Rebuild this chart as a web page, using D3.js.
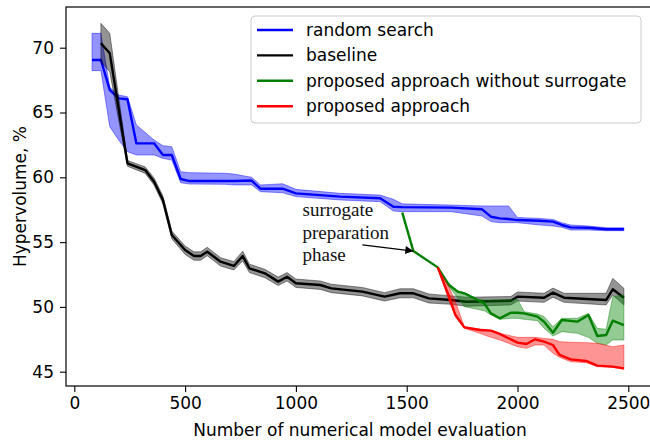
<!DOCTYPE html>
<html>
<head>
<meta charset="utf-8">
<script src="https://cdn.jsdelivr.net/npm/d3@7"></script>
<style>
  body { margin: 0; background: #fff; }
  svg text { font-family: "DejaVu Sans", sans-serif; fill: #000; }
</style>
</head>
<body>
<div id="chart"></div>
<script>
// random search: evaluations, mean, lower and upper band
const randomX    = [80, 120, 160, 200, 240, 280, 360, 400, 440, 480, 520, 680, 720, 800, 840, 940, 1000, 1200, 1380, 1440, 1480, 1700, 1840, 1880, 1920, 1960, 2000, 2100, 2160, 2200, 2240, 2320, 2400, 2480];
const randomMean = [69.05, 69.05, 66.74, 66.09, 66.02, 62.62, 62.62, 61.72, 61.72, 59.87, 59.71, 59.71, 59.71, 59.75, 59.12, 59.12, 58.76, 58.51, 58.38, 57.73, 57.70, 57.66, 57.53, 56.96, 56.83, 56.78, 56.70, 56.65, 56.58, 56.32, 56.14, 56.11, 55.99, 55.99];
const randomLo   = [68.23, 68.23, 63.91, 62.88, 61.98, 61.72, 61.72, 61.46, 61.33, 59.58, 59.48, 59.46, 59.41, 59.41, 58.89, 58.81, 58.51, 58.25, 58.12, 57.40, 57.35, 57.35, 57.01, 56.58, 56.50, 56.50, 56.50, 56.32, 56.24, 56.14, 55.93, 55.93, 55.88, 55.88];
const randomHi   = [71.11, 71.11, 66.94, 66.35, 66.22, 64.04, 62.88, 62.44, 62.36, 60.43, 60.36, 60.31, 60.25, 60.00, 59.41, 59.50, 59.07, 58.76, 58.63, 58.30, 57.95, 57.86, 57.79, 57.79, 57.79, 57.79, 56.90, 56.83, 56.75, 56.50, 56.32, 56.24, 56.11, 56.11];

// baseline
const baseX    = [120, 160, 200, 240, 320, 360, 400, 440, 500, 540, 570, 600, 660, 720, 760, 790, 860, 920, 960, 1000, 1110, 1160, 1300, 1400, 1470, 1530, 1600, 1700, 1770, 1970, 2000, 2120, 2160, 2210, 2400, 2430, 2480];
const baseMean = [70.34, 69.57, 65.32, 61.08, 60.56, 59.66, 58.25, 55.55, 54.39, 53.93, 53.93, 54.26, 53.49, 53.16, 53.93, 52.98, 52.59, 51.95, 52.33, 51.82, 51.69, 51.43, 51.18, 50.79, 51.05, 51.05, 50.66, 50.53, 50.40, 50.48, 50.79, 50.71, 51.10, 50.71, 50.53, 51.36, 50.71];
const baseLo   = [68.90, 68.15, 64.43, 60.85, 60.30, 59.40, 57.95, 55.25, 54.05, 53.60, 53.60, 53.95, 53.15, 52.85, 53.55, 52.65, 52.25, 51.65, 52.00, 51.50, 51.35, 51.10, 50.85, 50.45, 50.70, 50.70, 50.30, 50.20, 50.05, 50.15, 50.45, 50.35, 50.75, 50.35, 50.15, 50.92, 50.15];
const baseHi   = [71.88, 71.11, 66.22, 61.30, 60.80, 59.95, 58.55, 55.85, 54.70, 54.25, 54.25, 54.60, 53.80, 53.50, 54.30, 53.30, 52.90, 52.30, 52.65, 52.15, 52.00, 51.75, 51.50, 51.10, 51.40, 51.40, 51.00, 50.85, 50.75, 50.80, 51.15, 51.05, 51.45, 51.05, 51.05, 52.20, 51.43];

// proposed approach without surrogate
const noSurX    = [1480, 1530, 1640, 1690, 1730, 1760, 1820, 1850, 1880, 1920, 1970, 2000, 2030, 2090, 2120, 2160, 2200, 2270, 2320, 2360, 2400, 2430, 2480];
const noSurMean = [57.27, 54.31, 53.05, 51.69, 51.18, 51.05, 50.53, 50.27, 49.50, 49.12, 49.55, 49.55, 49.50, 49.25, 48.86, 48.01, 48.99, 48.86, 49.37, 47.75, 47.83, 48.94, 48.60];
const noSurLo   = [57.27, 54.31, 53.05, 51.56, 50.71, 50.02, 49.81, 49.71, 49.40, 49.04, 49.12, 49.12, 49.04, 48.94, 48.35, 47.75, 48.09, 47.96, 47.65, 47.19, 47.06, 47.45, 47.45];
const noSurHi   = [57.27, 54.31, 53.05, 51.82, 51.25, 51.10, 50.60, 50.53, 50.53, 50.53, 50.53, 50.58, 49.63, 49.45, 49.25, 48.47, 49.12, 49.12, 49.50, 48.35, 48.27, 50.79, 50.92];

// proposed approach
const propX    = [1640, 1690, 1720, 1760, 1830, 1880, 1920, 2000, 2040, 2080, 2120, 2160, 2190, 2240, 2310, 2360, 2430, 2480];
const propMean = [53.05, 50.84, 49.37, 48.42, 48.22, 48.17, 47.91, 47.24, 47.14, 47.50, 47.32, 47.06, 46.29, 45.95, 45.83, 45.47, 45.39, 45.26];
const propLo   = [53.05, 50.50, 49.25, 48.35, 47.96, 47.65, 47.45, 46.93, 46.80, 47.06, 47.06, 46.42, 46.11, 45.77, 45.70, 45.39, 45.34, 45.18];
const propHi   = [53.05, 51.56, 50.40, 48.47, 48.30, 48.20, 47.96, 47.65, 47.65, 47.65, 47.57, 47.50, 47.32, 47.27, 47.24, 47.19, 46.93, 47.06];

const xTicks = [0, 500, 1000, 1500, 2000, 2500];
const yTicks = [45, 50, 55, 60, 65, 70];

const series = [
    {name: "random search", color: "#0000ff", x: randomX, mean: randomMean, lo: randomLo, hi: randomHi},
    {name: "baseline", color: "#000000", x: baseX, mean: baseMean, lo: baseLo, hi: baseHi},
    {name: "proposed approach without surrogate", color: "#008000", x: noSurX, mean: noSurMean, lo: noSurLo, hi: noSurHi},
    {name: "proposed approach", color: "#ff0000", x: propX, mean: propMean, lo: propLo, hi: propHi}
];

const width = 650, height = 443;
const plot = {left: 66, top: 7, right: 652, bottom: 386};

const svg = d3.select("#chart").append("svg")
    .attr("width", width)
    .attr("height", height);

const xScale = d3.scaleLinear().domain([0, 2500]).range([74.3, 628.3]);
const yScale = d3.scaleLinear().domain([45, 70]).range([371.7, 47.7]);

svg.append("clipPath").attr("id", "clip")
    .append("rect")
    .attr("x", plot.left).attr("y", plot.top)
    .attr("width", plot.right - plot.left).attr("height", plot.bottom - plot.top);

const g = svg.append("g").attr("clip-path", "url(#clip)");

// bands then lines, series by series
series.forEach(s => {
    let rows = s.x.map((x, i) => ({x: x, m: s.mean[i], lo: s.lo[i], hi: s.hi[i]}));
    let area = d3.area()
        .x(d => xScale(d.x))
        .y0(d => yScale(d.lo))
        .y1(d => yScale(d.hi));
    let line = d3.line()
        .x(d => xScale(d.x))
        .y(d => yScale(d.m));
    g.append("path")
        .datum(rows)
        .attr("d", area)
        .attr("fill", s.color)
        .attr("fill-opacity", 0.42)
        .attr("stroke", s.color)
        .attr("stroke-opacity", 0.42)
        .attr("stroke-width", 1);
    g.append("path")
        .datum(rows)
        .attr("d", line)
        .attr("fill", "none")
        .attr("stroke", s.color)
        .attr("stroke-width", 2.4)
        .attr("stroke-linejoin", "round");
});

// axes
const xAxis = d3.axisBottom(xScale).tickValues(xTicks).tickSize(6).tickPadding(5).tickFormat(d3.format("d"));
const yAxis = d3.axisLeft(yScale).tickValues(yTicks).tickSize(6).tickPadding(6);

let xAx = svg.append("g").attr("transform", "translate(0," + plot.bottom + ")").call(xAxis);
let yAx = svg.append("g").attr("transform", "translate(" + plot.left + ",0)").call(yAxis);
[xAx, yAx].forEach(ax => {
    ax.select(".domain").remove();
    ax.selectAll(".tick line").attr("stroke", "#000").attr("stroke-width", 1.1);
    ax.selectAll(".tick text").style("font-size", "17px").style("font-family", "DejaVu Sans");
});

// spines
svg.append("rect")
    .attr("x", plot.left).attr("y", plot.top)
    .attr("width", plot.right - plot.left).attr("height", plot.bottom - plot.top)
    .attr("fill", "none").attr("stroke", "#000").attr("stroke-width", 1.2);

// axis labels
svg.append("text")
    .attr("x", 360).attr("y", 436)
    .attr("text-anchor", "middle")
    .style("font-size", "17px")
    .text("Number of numerical model evaluation");
svg.append("text")
    .attr("transform", "translate(20," + ((plot.top + plot.bottom) / 2) + ") rotate(-90)")
    .attr("text-anchor", "middle")
    .attr("dominant-baseline", "central")
    .style("font-size", "17px")
    .text("Hypervolume, %");

// annotation
const annLines = ["surrogate", "preparation", "phase"];
const ann = svg.append("text")
    .attr("x", xScale(1030))
    .attr("y", yScale(57.0))
    .style("font-family", "'Liberation Serif', serif")
    .style("font-size", "19px")
    .style("fill", "#111");
annLines.forEach((t, i) => {
    ann.append("tspan")
        .attr("x", xScale(1030))
        .attr("dy", i === 0 ? 0 : 22.6)
        .style("font-family", "'Liberation Serif', serif")
        .text(t);
});

svg.append("defs").append("marker")
    .attr("id", "arrow")
    .attr("viewBox", "0 0 10 10")
    .attr("refX", 10).attr("refY", 5)
    .attr("markerWidth", 10).attr("markerHeight", 8)
    .attr("markerUnits", "userSpaceOnUse")
    .attr("orient", "auto")
    .append("path").attr("d", "M0,0 L10,5 L0,10 z").attr("fill", "#000");

svg.append("line")
    .attr("x1", xScale(1300)).attr("y1", yScale(54.78))
    .attr("x2", xScale(noSurX[1])).attr("y2", yScale(noSurMean[1]))
    .attr("stroke", "#000").attr("stroke-width", 1.2)
    .attr("marker-end", "url(#arrow)");

// legend
const legend = svg.append("g");
legend.append("rect")
    .attr("x", 251).attr("y", 16)
    .attr("width", 390).attr("height", 107)
    .attr("rx", 4)
    .attr("fill", "#fff").attr("fill-opacity", 0.8)
    .attr("stroke", "#cccccc").attr("stroke-width", 1);
series.forEach((s, i) => {
    let y = 30 + i * 25.4;
    legend.append("line")
        .attr("x1", 257).attr("x2", 293)
        .attr("y1", y).attr("y2", y)
        .attr("stroke", s.color).attr("stroke-width", 2.4);
    legend.append("text")
        .attr("x", 306).attr("y", y)
        .attr("dy", "0.35em")
        .style("font-size", "17px")
        .text(s.name);
});
</script>
</body>
</html>
